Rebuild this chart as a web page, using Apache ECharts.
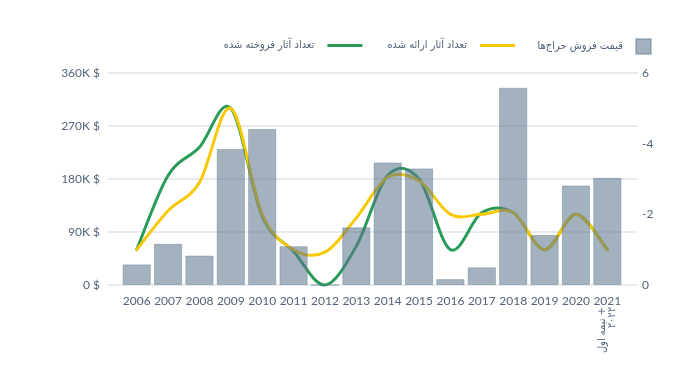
<!DOCTYPE html>
<html><head><meta charset="utf-8">
<script src="https://cdn.jsdelivr.net/npm/echarts@6/dist/echarts.min.js"></script>
<style>html,body{margin:0;padding:0;background:#fff}#c{width:700px;height:372px}</style>
</head><body><div id="c"></div>
<script>
const years = ['2006','2007','2008','2009','2010','2011','2012','2013','2014','2015','2016','2017','2018','2019','2020','2021'];
const extraLabel = 'نیمه اول +\n۲۰۲۲';
const auctionSales = [35000, 70000, 50000, 231000, 265000, 66000, 0, 98000, 208000, 198000, 10000, 30000, 335000, 85000, 169000, 182000];
const worksOffered = [1, 2.1, 2.9, 5, 2, 1, 0.93, 1.9, 3.05, 2.95, 2, 2, 2.05, 1, 2, 1];
const worksSold = [1, 3.1, 3.9, 5, 1.95, 0.95, 0, 1.1, 3.1, 3.0, 1, 2.05, 2.05, 1, 2, 1];
const rightTickLabels = {0: '0', 2: '-2', 4: '-4', 6: '6'};
const names = ['قیمت فروش حراج‌ها', 'تعداد آثار ارائه شده', 'تعداد آثار فروخته شده'];

const FONT = 'Lato, "DejaVu Sans Condensed", "DejaVu Sans", sans-serif';
const FA_FONT = '"DejaVu Sans Condensed", "DejaVu Sans", sans-serif';
const TXT = '#52637a';

// Catmull-Rom spline through points placed by the axes (api.coord)
function splineSeries(name, values, color) {
  return {
    name, type: 'custom', xAxisIndex: 1, yAxisIndex: 2, itemStyle: {color},
    data: values.map((v, i) => [i, v]),
    renderItem: (params, api) => {
      if (params.dataIndex !== 0) return null;
      const pts = values.map((v, i) => api.coord([i, v]));
      const n = pts.length;
      let d = 'M' + pts[0][0] + ' ' + pts[0][1];
      for (let i = 0; i < n - 1; i++) {
        const p0 = pts[Math.max(0, i - 1)], p1 = pts[i], p2 = pts[i + 1], p3 = pts[Math.min(n - 1, i + 2)];
        const c1x = p1[0] + (p2[0] - p0[0]) / 6, c1y = p1[1] + (p2[1] - p0[1]) / 6;
        const c2x = p2[0] - (p3[0] - p1[0]) / 6, c2y = p2[1] - (p3[1] - p1[1]) / 6;
        d += ' C' + c1x + ' ' + c1y + ' ' + c2x + ' ' + c2y + ' ' + p2[0] + ' ' + p2[1];
      }
      return {type: 'path', shape: {pathData: d},
              style: {stroke: color, lineWidth: 3, fill: 'none', lineJoin: 'round', lineCap: 'round'}};
    }
  };
}

const chart = echarts.init(document.getElementById('c'));
chart.setOption({
  animation: false,
  textStyle: {fontFamily: FONT},
  legend: [
    {data: [{name: names[0], icon: 'rect'}], right: 43, top: 33, itemWidth: 15, itemHeight: 15, align: 'right',
     textStyle: {color: TXT, fontSize: 11, fontFamily: FA_FONT, padding: [0, 8, 0, 0]}},
    {data: [{name: names[2], icon: 'rect'}, {name: names[1], icon: 'rect'}], right: 180, top: 35, itemWidth: 35, itemHeight: 3,
     itemGap: 25, align: 'right', textStyle: {color: TXT, fontSize: 11, fontFamily: FA_FONT, padding: [0, 8, 0, 0]}}
  ],
  grid: [
    {left: 108, right: 62, top: 73, bottom: 87},
    {left: 121, right: 77, top: 73, bottom: 87}
  ],
  xAxis: [
    {type: 'category', gridIndex: 0, data: years, show: false},
    {type: 'category', gridIndex: 1, data: years, axisLine: {show: false}, axisTick: {show: false},
     axisLabel: {color: TXT, fontSize: 12, margin: 10, interval: 0}},
    {type: 'category', gridIndex: 1, data: years, position: 'bottom', axisLine: {show: false}, axisTick: {show: false},
     axisLabel: {color: TXT, fontSize: 11, fontFamily: FA_FONT, margin: 22, interval: 0, rotate: 90, lineHeight: 10,
       formatter: (v, i) => i === years.length - 1 ? extraLabel : ''}}
  ],
  yAxis: [
    {type: 'value', gridIndex: 0, min: 0, max: 360000, interval: 90000,
     axisLine: {show: false}, axisTick: {show: false},
     splitLine: {lineStyle: {color: '#e8ebef', width: 2}},
     axisLabel: {color: TXT, fontSize: 12, margin: 8, formatter: v => v === 0 ? '0 $' : (v / 1000) + 'K $'}},
    {type: 'value', gridIndex: 1, min: 0, max: 360000, interval: 90000, show: false},
    {type: 'value', gridIndex: 1, position: 'right', min: 0, max: 6, interval: 2,
     axisLine: {show: false}, axisTick: {show: false}, splitLine: {show: false},
     axisLabel: {color: TXT, fontSize: 12, margin: 19, formatter: v => rightTickLabels[v]}}
  ],
  series: [
    {name: names[0], type: 'bar', xAxisIndex: 1, yAxisIndex: 1, data: auctionSales, barCategoryGap: '10%',
     itemStyle: {color: 'rgba(93,119,141,0.57)', borderColor: 'rgba(93,119,141,0.4)', borderWidth: 1},
     emphasis: {disabled: true}},
    splineSeries(names[2], worksSold, '#2a9a58'),
    splineSeries(names[1], worksOffered, '#f8c800')
  ]
});
</script></body></html>
